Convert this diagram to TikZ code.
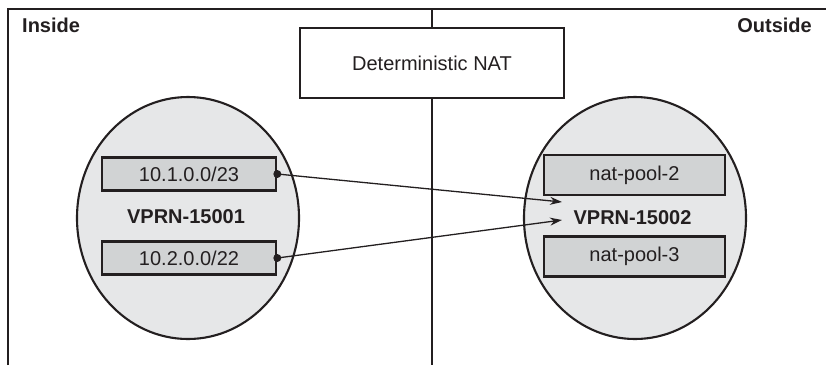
\documentclass[tikz,border=0pt]{standalone}
\usepackage{fontspec}
\setmainfont{Liberation Sans}
\usetikzlibrary{arrows.meta,shapes.geometric}
\definecolor{ink}{HTML}{231F20}
\definecolor{vprnfill}{HTML}{E6E7E8}
\definecolor{poolfill}{HTML}{D1D3D4}
\begin{document}
\begin{tikzpicture}[x=1pt,y=-1pt,
  frame/.style={draw=ink,line width=2.3pt},
  vprn/.style={ellipse,draw=ink,line width=2.1pt,fill=vprnfill,
    minimum width=222pt,minimum height=242pt,inner sep=0pt},
  pool/.style={rectangle,draw=ink,line width=2.6pt,fill=poolfill,
    minimum width=174pt,inner sep=0pt,font=\fontsize{20}{24}\selectfont,text=ink},
  natbox/.style={rectangle,draw=ink,line width=2.3pt,fill=white,
    minimum width=264pt,minimum height=70pt,inner sep=0pt,
    font=\fontsize{20}{24}\selectfont,text=ink},
  zone/.style={font=\bfseries\fontsize{20}{24}\selectfont,text=ink,inner sep=0pt},
  vlabel/.style={font=\bfseries\fontsize{20}{24}\selectfont,text=ink,inner sep=0pt},
  link/.style={draw=ink,line width=1.3pt,-{Stealth[length=12pt,width=8pt]}},
  dotend/.style={circle,fill=ink,inner sep=0pt,minimum size=8pt}]
\useasboundingbox (0,0) rectangle (826,365);

% outer frame and the inside/outside divider
\coordinate (tl) at (8,9);
\coordinate (tr) at (826,9);
\coordinate (bl) at (8,365);
\coordinate (mt) at (432,9);
\coordinate (mb) at (432,365);
\draw[frame] (bl) -- (tl) -- (tr);
\draw[frame] (mt) -- (mb);

\node[zone,anchor=north west] (inside) at (22,18) {Inside};
\node[zone,anchor=north east] (outside) at (812,18) {Outside};

\node[natbox] (nat) at (432,63) {Deterministic NAT};

% inside VPRN
\node[vprn] (v1) at (188,218) {};
\node[pool,minimum height=33pt] (p1) at (189,174) {10.1.0.0/23};
\node[pool,minimum height=33pt] (p2) at (189,258) {10.2.0.0/22};
\node[vlabel] (v1l) at (186,217) {VPRN-15001};

% outside VPRN
\node[vprn] (v2) at (635,218) {};
\node[pool,minimum height=40pt,minimum width=181pt] (q1) at (634.5,175) {nat-pool-2};
\node[pool,minimum height=40pt,minimum width=181pt] (q2) at (634.5,256.5) {nat-pool-3};
\node[vlabel] (v2l) at (632.5,218) {VPRN-15002};

% address mappings
\node[dotend] (d1) at (p1.east) {};
\node[dotend] (d2) at (p2.east) {};
\coordinate (t1) at (562,202);
\coordinate (t2) at (562,220);
\draw[link] (d1.center) -- (t1);
\draw[link] (d2.center) -- (t2);
\end{tikzpicture}
\end{document}
